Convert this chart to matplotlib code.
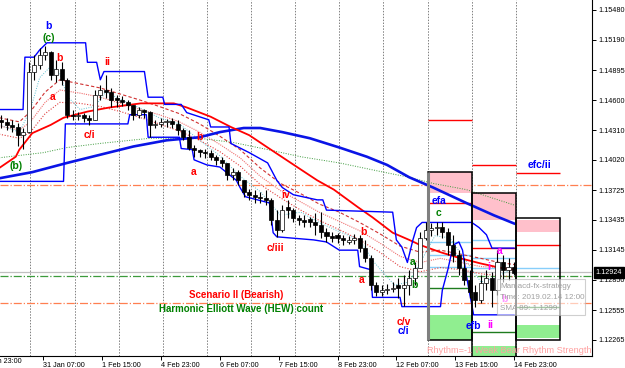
import matplotlib.pyplot as plt
import matplotlib.transforms as mtransforms
from matplotlib.patches import Rectangle

plt.rcParams['font.family'] = ['Liberation Sans', 'DejaVu Sans']

# x = hours since 30 Jan 23:00 (EURUSD H1), drawn here as 3h candles
bar_t = list(range(-15, 265, 3))
opens = [1.1441, 1.1439, 1.1436, 1.1434, 1.1426, 1.1429, 1.1488, 1.1494, 1.1504, 1.1507,
         1.1485, 1.1490, 1.1480, 1.1446, 1.1445, 1.1446, 1.1443, 1.1441, 1.1465, 1.1470,
         1.1468, 1.1462, 1.1460, 1.1458, 1.1455, 1.1446, 1.1451, 1.1449, 1.1436, 1.1437,
         1.1439, 1.1440, 1.1437, 1.1431, 1.1424, 1.1414, 1.1412, 1.1410, 1.1409, 1.1405,
         1.1402, 1.1399, 1.1387, 1.1390, 1.1382, 1.1371, 1.1368, 1.1366, 1.1365, 1.1363,
         1.1343, 1.1334, 1.1356, 1.1353, 1.1345, 1.1343, 1.1344, 1.1341, 1.1339, 1.1332,
         1.1328, 1.1329, 1.1326, 1.1322, 1.1324, 1.1326, 1.1316, 1.1306, 1.1280, 1.1273,
         1.1275, 1.1276, 1.1280, 1.1277, 1.1280, 1.1287, 1.1297, 1.1326, 1.1334, 1.1336,
         1.1337, 1.1332, 1.1319, 1.1309, 1.1297, 1.1285, 1.1273, 1.1265, 1.1282, 1.1287,
         1.1275, 1.1302, 1.1295, 1.1298]
highs = [1.1446, 1.1443, 1.1441, 1.1438, 1.1433, 1.1497, 1.1504, 1.1511, 1.1513, 1.1508,
         1.1499, 1.1497, 1.1482, 1.1451, 1.1449, 1.1448, 1.1446, 1.1470, 1.1475, 1.1485,
         1.1472, 1.1465, 1.1464, 1.1460, 1.1455, 1.1453, 1.1452, 1.1450, 1.1441, 1.1443,
         1.1442, 1.1443, 1.1441, 1.1433, 1.1431, 1.1416, 1.1413, 1.1413, 1.1412, 1.1407,
         1.1405, 1.1399, 1.1394, 1.1392, 1.1382, 1.1374, 1.1373, 1.1371, 1.1373, 1.1365,
         1.1353, 1.1358, 1.1363, 1.1355, 1.1348, 1.1348, 1.1346, 1.1350, 1.1351, 1.1336,
         1.1332, 1.1331, 1.1329, 1.1328, 1.1330, 1.1329, 1.1324, 1.1309, 1.1283, 1.1280,
         1.1281, 1.1283, 1.1287, 1.1290, 1.1295, 1.1302, 1.1332, 1.1341, 1.1340, 1.1341,
         1.1341, 1.1336, 1.1329, 1.1314, 1.1306, 1.1295, 1.1280, 1.1290, 1.1295, 1.1293,
         1.1314, 1.1309, 1.1306, 1.1302]
lows = [1.1433, 1.1431, 1.1429, 1.1415, 1.1413, 1.1428, 1.1480, 1.1490, 1.1499, 1.1480,
        1.1478, 1.1475, 1.1443, 1.1441, 1.1441, 1.1439, 1.1436, 1.1441, 1.1460, 1.1462,
        1.1453, 1.1453, 1.1454, 1.1451, 1.1441, 1.1443, 1.1443, 1.1424, 1.1433, 1.1434,
        1.1434, 1.1433, 1.1426, 1.1421, 1.1412, 1.1405, 1.1405, 1.1404, 1.1402, 1.1397,
        1.1395, 1.1382, 1.1382, 1.1377, 1.1366, 1.1363, 1.1360, 1.1360, 1.1358, 1.1339,
        1.1327, 1.1332, 1.1345, 1.1341, 1.1339, 1.1337, 1.1337, 1.1329, 1.1326, 1.1322,
        1.1322, 1.1321, 1.1319, 1.1320, 1.1320, 1.1312, 1.1302, 1.1275, 1.1269, 1.1269,
        1.1271, 1.1273, 1.1267, 1.1260, 1.1270, 1.1280, 1.1297, 1.1324, 1.1328, 1.1329,
        1.1326, 1.1309, 1.1302, 1.1290, 1.1280, 1.1267, 1.1259, 1.1263, 1.1275, 1.1259,
        1.1270, 1.1283, 1.1285, 1.1290]
closes = [1.1439, 1.1436, 1.1434, 1.1426, 1.1429, 1.1488, 1.1494, 1.1504, 1.1507, 1.1485,
          1.1490, 1.1480, 1.1446, 1.1445, 1.1446, 1.1443, 1.1441, 1.1465, 1.1470, 1.1468,
          1.1460, 1.1460, 1.1458, 1.1455, 1.1446, 1.1451, 1.1449, 1.1436, 1.1437, 1.1439,
          1.1440, 1.1437, 1.1431, 1.1424, 1.1414, 1.1412, 1.1410, 1.1409, 1.1405, 1.1402,
          1.1399, 1.1387, 1.1390, 1.1382, 1.1371, 1.1368, 1.1366, 1.1365, 1.1363, 1.1343,
          1.1334, 1.1353, 1.1353, 1.1345, 1.1343, 1.1341, 1.1341, 1.1339, 1.1332, 1.1328,
          1.1326, 1.1326, 1.1324, 1.1324, 1.1326, 1.1316, 1.1306, 1.1280, 1.1273, 1.1275,
          1.1276, 1.1277, 1.1277, 1.1280, 1.1287, 1.1297, 1.1326, 1.1334, 1.1336, 1.1337,
          1.1332, 1.1319, 1.1309, 1.1297, 1.1285, 1.1273, 1.1265, 1.1282, 1.1287, 1.1275,
          1.1302, 1.1295, 1.1298, 1.1292]

# price channel (upper / lower)
ub_t = [-16, -3, -2, 3, 6, 10, 31, 32, 37, 39, 41, 63, 65, 73, 74, 83, 86, 98, 99, 109, 110,
        120, 130, 135, 138, 144, 157, 160, 162, 198, 200, 203, 206, 209, 211, 214, 241, 245,
        249, 252, 264]
ub_p = [1.1451, 1.1451, 1.1502, 1.1502, 1.1509, 1.1516, 1.1516, 1.1497, 1.1497, 1.1480,
        1.1488, 1.1488, 1.1463, 1.1463, 1.1456, 1.1456, 1.1448, 1.1441, 1.1434, 1.1434,
        1.1418, 1.1409, 1.1399, 1.1382, 1.1375, 1.1368, 1.1363, 1.1363, 1.1353, 1.1351,
        1.1324, 1.1317, 1.1302, 1.1324, 1.1336, 1.1341, 1.1341, 1.1336, 1.1329, 1.1316, 1.1316]
lb_t = [-16, 19, 20, 54, 55, 64, 65, 82, 83, 89, 90, 97, 104, 113, 115, 118, 131, 133, 135,
        155, 162, 169, 179, 180, 186, 187, 202, 203, 224, 225, 228, 231, 234, 236, 238, 241,
        242, 264]
lb_p = [1.1381, 1.1381, 1.1437, 1.1437, 1.1446, 1.1446, 1.1424, 1.1424, 1.1413, 1.1412,
        1.1402, 1.1397, 1.1395, 1.1382, 1.1375, 1.1366, 1.1360, 1.1331, 1.1327, 1.1324,
        1.1322, 1.1314, 1.1314, 1.1298, 1.1295, 1.1268, 1.1268, 1.1259, 1.1259, 1.1275,
        1.1295, 1.1319, 1.1322, 1.1314, 1.1290, 1.1261, 1.1251, 1.1251]

# SMA 89 (red)
sma89_t = [-16, -7, -5, 2, 12, 19, 32, 44, 61, 79, 86, 99, 110, 120, 130, 146, 157, 166, 179,
           187, 198, 207, 213, 224, 235, 246, 256, 264]
sma89_p = [1.1394, 1.1405, 1.1412, 1.1428, 1.1436, 1.1443, 1.1449, 1.1453, 1.1457, 1.1457,
           1.1453, 1.1444, 1.1434, 1.1426, 1.1414, 1.1395, 1.1382, 1.1373, 1.1356, 1.1346,
           1.1331, 1.1324, 1.1319, 1.1312, 1.1306, 1.1301, 1.1297, 1.1295]
# slow SMA (thick blue)
slow_t = [-16, 2, 21, 39, 57, 75, 93, 104, 117, 126, 138, 153, 169, 184, 195, 207, 220, 238,
          253, 264]
slow_p = [1.1384, 1.1390, 1.1399, 1.1407, 1.1415, 1.1421, 1.1424, 1.1429, 1.1433, 1.1433,
          1.1429, 1.1423, 1.1414, 1.1405, 1.1397, 1.1385, 1.1375, 1.1360, 1.1348, 1.1340]
# green dotted MA
green_t = [-16, 8, 21, 39, 66, 84, 93, 111, 130, 148, 169, 193, 207, 220, 238, 264]
green_p = [1.1404, 1.1409, 1.1414, 1.1418, 1.1423, 1.1423, 1.1423, 1.1419, 1.1412, 1.1405,
           1.1399, 1.1390, 1.1385, 1.1379, 1.1373, 1.1358]

# MA ribbon
rib_t = [-16, -5, 1, 9, 17, 28, 39, 50, 61, 71, 82, 93, 104, 115, 126, 137, 148, 158, 169,
         180, 191, 202, 213, 224, 235, 246, 256, 264]
rib1_p = [1.1443, 1.1439, 1.1449, 1.1468, 1.1480, 1.1476, 1.1472, 1.1466, 1.1460, 1.1454,
          1.1447, 1.1437, 1.1425, 1.1412, 1.1394, 1.1379, 1.1369, 1.1359, 1.1351, 1.1341,
          1.1330, 1.1318, 1.1312, 1.1314, 1.1310, 1.1306, 1.1302, 1.1300]
rib2_p = [1.1435, 1.1431, 1.1439, 1.1458, 1.1470, 1.1467, 1.1463, 1.1457, 1.1451, 1.1446,
          1.1439, 1.1429, 1.1417, 1.1404, 1.1386, 1.1372, 1.1361, 1.1351, 1.1342, 1.1333,
          1.1321, 1.1308, 1.1302, 1.1306, 1.1302, 1.1298, 1.1297, 1.1295]
rib3_p = [1.1427, 1.1423, 1.1429, 1.1447, 1.1458, 1.1457, 1.1454, 1.1449, 1.1443, 1.1437,
          1.1430, 1.1421, 1.1410, 1.1396, 1.1378, 1.1365, 1.1353, 1.1343, 1.1334, 1.1324,
          1.1312, 1.1298, 1.1293, 1.1297, 1.1295, 1.1291, 1.1289, 1.1288]
fast_t = [-16, -5, 1, 6, 12, 17, 21, 28, 36, 42, 50, 61, 71, 82, 93, 104, 115, 126, 137,
          148, 158, 169, 180, 188, 199, 207, 213, 221, 229, 237, 246, 254, 264]
fast_p = [1.1436, 1.1429, 1.1451, 1.1482, 1.1493, 1.1486, 1.1464, 1.1451, 1.1454, 1.1468,
          1.1461, 1.1452, 1.1443, 1.1437, 1.1421, 1.1406, 1.1386, 1.1371, 1.1348, 1.1351,
          1.1341, 1.1332, 1.1324, 1.1302, 1.1280, 1.1283, 1.1302, 1.1328, 1.1326, 1.1306,
          1.1283, 1.1287, 1.1297]

# horizontal levels
level_hi = 1.1377
level_lo = 1.1263
level_green = 1.1289
last_price = 1.12924

# right-hand projection columns: (t0, t1, top, bottom)
box_outlines = [(217, 241, 1.1390, 1.1226), (241, 265, 1.1370, 1.1200), (265, 289, 1.1345, 1.1226)]
pink_zones = [(217, 241, 1.1390, 1.1370), (241, 265, 1.1370, 1.1343), (265, 289, 1.1343, 1.1332)]
green_zones = [(217, 241, 1.1251, 1.1226), (241, 265, 1.1221, 1.1200), (265, 289, 1.1241, 1.1228)]
red_levels = [(217, 241, 1.1441), (217, 241, 1.1360), (241, 265, 1.1397), (241, 265, 1.1316),
              (265, 289, 1.1389), (265, 289, 1.1319)]
sky_levels = [(217, 241, 1.1322), (217, 241, 1.1309), (217, 241, 1.1298), (241, 265, 1.1324),
              (241, 265, 1.1306), (241, 265, 1.1297), (265, 289, 1.1297)]
dkgreen_levels = [(217, 241, 1.1277), (241, 265, 1.1234), (265, 289, 1.1259)]

grid_t = [1, 25, 49, 73, 97, 121, 145, 169, 193, 217, 241, 265]
xtick_t = [8, 40, 72, 104, 136, 168, 200, 232, 264]
xtick_labels = ["31 Jan 07:00", "1 Feb 15:00", "4 Feb 23:00", "6 Feb 07:00", "7 Feb 15:00",
                "8 Feb 23:00", "12 Feb 07:00", "13 Feb 15:00", "14 Feb 23:00"]
ytick_p = [1.15480, 1.15190, 1.14895, 1.14600, 1.14310, 1.14020, 1.13725, 1.13435,
           1.13145, 1.12850, 1.12555, 1.12265]

wave_labels = [
    ("b", 11, 1.1532, "#0000ff"), ("(c)", 11, 1.1521, "#008000"),
    ("b", 17, 1.1501, "#ff0000"), ("ii", 43, 1.1497, "#ff0000"),
    ("a", 13, 1.1463, "#ff0000"), ("c/i", 33, 1.1426, "#ff0000"),
    ("(b)", -7, 1.1396, "#008000"), ("b", 93, 1.1424, "#ff0000"),
    ("a", 90, 1.1390, "#ff0000"), ("iv", 140, 1.1368, "#ff0000"),
    ("c/iii", 134, 1.1316, "#ff0000"), ("b", 182, 1.1332, "#ff0000"),
    ("a", 181, 1.1285, "#ff0000"), ("c/v", 204, 1.1244, "#ff0000"),
    ("c/i", 204, 1.1235, "#0000ff"), ("a", 209, 1.1302, "#008000"),
    ("b", 210, 1.1280, "#008000"), ("efa", 223, 1.1362, "#0000ff"),
    ("c", 223, 1.1350, "#008000"), ("efb", 242, 1.1240, "#0000ff"),
    ("ii", 251, 1.1241, "#ff00ff"), ("a", 256, 1.1313, "#ff00ff"),
    ("i", 250, 1.1298, "#ff00ff"), ("b", 259, 1.1266, "#ff00ff"),
    ("efc/ii", 278, 1.1397, "#0000ff"),
]

fig = plt.figure(figsize=(6.25, 3.68), dpi=100)
ax = fig.add_axes([0, 12 / 368, 592 / 625, 356 / 368])
ax.set_xlim(-15.55, 306.4)
ax.set_ylim(1.12109, 1.15577)

for t in grid_t:
    ax.axvline(t, color="#808080", lw=0.7, ls=(0, (1.5, 1.5)), zorder=0)

ax.axhline(level_hi, color="#ff7f50", lw=0.9, ls="-.", zorder=1)
ax.axhline(level_lo, color="#ff7f50", lw=0.9, ls="-.", zorder=1)
ax.axhline(level_green, color="#3c9a3c", lw=0.9, ls="-.", zorder=1)
ax.axhline(last_price, color="#c0c0c0", lw=0.9, zorder=1)

# projection boxes
for t0, t1, top, bot in pink_zones:
    ax.add_patch(Rectangle((t0, bot), t1 - t0, top - bot, color="#ffc0cb", lw=0, zorder=1))
for t0, t1, top, bot in green_zones:
    ax.add_patch(Rectangle((t0, bot), t1 - t0, top - bot, color="#90ee90", lw=0, zorder=1))
for t0, t1, p in red_levels:
    ax.hlines(p, t0, t1, color="#ff0000", lw=1.0, zorder=2)
for t0, t1, p in sky_levels:
    ax.hlines(p, t0, t1, color="#87cefa", lw=1.0, zorder=2)
for t0, t1, p in dkgreen_levels:
    ax.hlines(p, t0, t1, color="#1e7b1e", lw=1.0, zorder=2)
for t0, t1, top, bot in box_outlines:
    ax.add_patch(Rectangle((t0, bot), t1 - t0, top - bot, fill=False, ec="black", lw=1.1, zorder=6))
ax.vlines(217, 1.1226, 1.1390, color="#808080", lw=2.2, zorder=6)

# moving averages
ax.plot(green_t, green_p, color="#3c9a3c", lw=0.7, ls=(0, (1, 1.5)), zorder=2)
ax.plot(rib_t, rib1_p, color="#d03030", lw=0.8, ls=(0, (3, 2)), zorder=2)
ax.plot(rib_t, rib2_p, color="#f07070", lw=0.8, ls=(0, (1, 1)), zorder=2)
ax.plot(rib_t, rib3_p, color="#e04040", lw=0.8, ls=(0, (1, 1.5)), zorder=2)
ax.plot(fast_t, fast_p, color="#60c0d0", lw=0.7, ls=(0, (1, 1.5)), zorder=2)
ax.plot(slow_t, slow_p, color="#0a14e6", lw=1.9, zorder=3)
ax.plot(sma89_t, sma89_p, color="#ff0000", lw=1.3, zorder=3)
ax.plot(ub_t, ub_p, color="#0000ff", lw=1.0, zorder=3)
ax.plot(lb_t, lb_p, color="#0000ff", lw=1.0, zorder=3)

# candles
for t, o, h, l, c in zip(bar_t, opens, highs, lows, closes):
    ax.vlines(t, l, h, color="black", lw=0.8, zorder=4)
    face = "white" if c >= o else "black"
    ax.add_patch(Rectangle((t - 1.1, min(o, c)), 2.2, max(abs(c - o), 0.00004),
                           fc=face, ec="black", lw=0.5, zorder=5))

for txt, t, p, col in wave_labels:
    ax.text(t, p, txt, color=col, fontsize=7.5, fontweight="bold", ha="center", va="center", zorder=7)

ax.text(113, 1.1270, "Scenario II (Bearish)", color="#ff0000", fontsize=7,
        fontweight="bold", ha="center", va="center", zorder=7)
ax.text(115.5, 1.1257, "Harmonic Elliott Wave (HEW) count", color="#008000", fontsize=7,
        fontweight="bold", ha="center", va="center", zorder=7)
ax.text(216.5, 1.1216, "Rhythm=-1 Weak Bear Rhythm Strength", color="#ffa0a0", fontsize=6.6,
        ha="left", va="center", zorder=7)

# tooltip
ax.add_patch(Rectangle((254.7, 1.1251), 47.9, 0.0035, fc="white", ec="#b0b0b0",
                       alpha=0.6, lw=0.8, zorder=8))
for i, line in enumerate(["Mamacd-fx-strategy", "Time: 2019.02.14 12:00", "SMA 89: 1.1299"]):
    ax.text(256.4, 1.1279 - i * 0.00107, line, color="#a0a0a0", fontsize=5.8,
            ha="left", va="center", zorder=9)

# axes
for s in ["left", "top"]:
    ax.spines[s].set_visible(False)
ax.spines["right"].set_color("black")
ax.spines["bottom"].set_color("black")
ax.yaxis.tick_right()
ax.set_yticks(ytick_p)
ax.set_yticklabels(["%.5f" % p for p in ytick_p])
ax.set_xticks(xtick_t)
ax.set_xticklabels(xtick_labels)
for lbl in ax.get_xticklabels():
    lbl.set_ha("left")
ax.tick_params(axis="both", labelsize=5.2, length=3, width=0.7, pad=1.5)
trans = mtransforms.blended_transform_factory(ax.transData, ax.transAxes)
ax.text(-3.6, -0.005, "30 Jan 23:00", transform=trans, fontsize=5.2, ha="right", va="top")
ytrans = mtransforms.blended_transform_factory(ax.transAxes, ax.transData)
ax.text(1.006, last_price, "%.5f" % last_price, transform=ytrans, fontsize=5.2, color="white",
        ha="left", va="center", zorder=10,
        bbox=dict(boxstyle="square,pad=0.25", fc="black", ec="black"))

fig.savefig("out.png", dpi=100)
